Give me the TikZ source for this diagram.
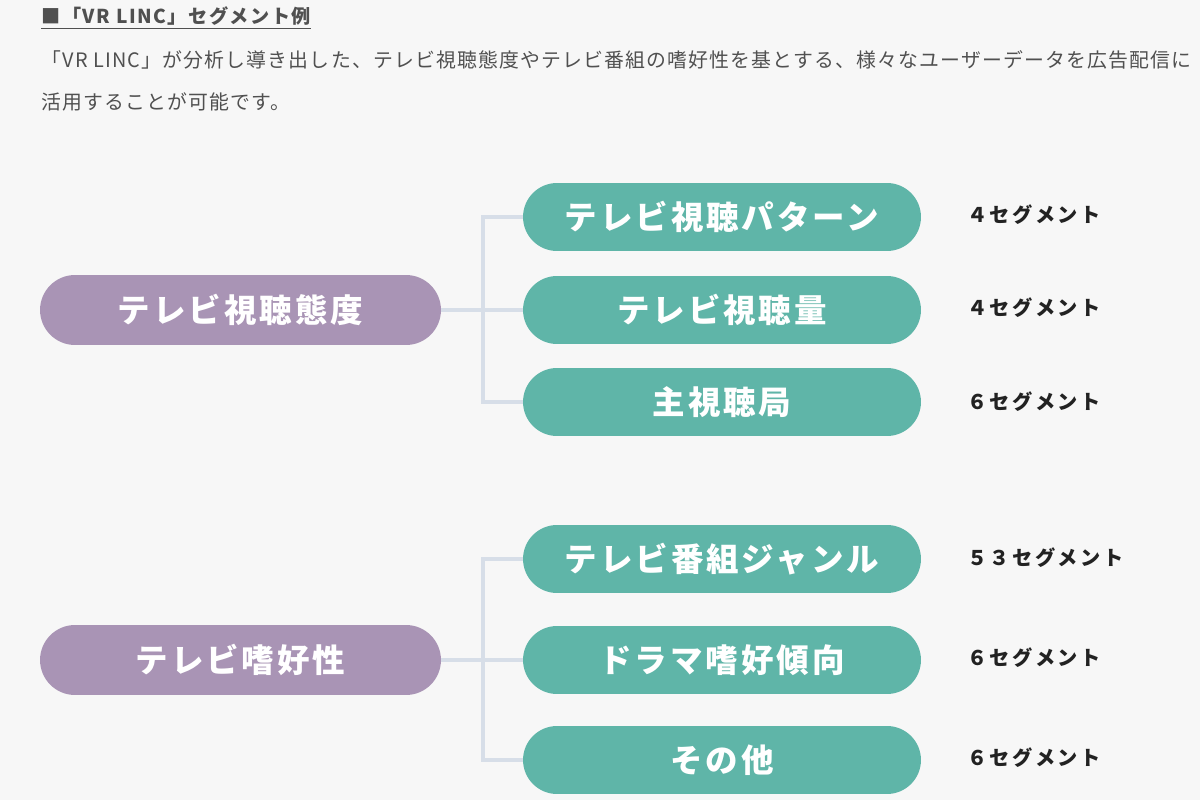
\documentclass[tikz,border=0pt]{standalone}
\usepackage{fontspec}
\setmainfont{Noto Sans CJK JP}
\newfontfamily\jpbody[LetterSpace=6]{Noto Sans CJK JP}
\newfontfamily\jptitle[LetterSpace=8]{Noto Sans CJK JP}
\newfontfamily\jpnode[LetterSpace=9]{Noto Sans CJK JP}
\newfontfamily\jpcount[LetterSpace=12]{Noto Sans CJK JP}
\definecolor{pagegray}{HTML}{F7F7F7}
\definecolor{topicpurple}{HTML}{A994B5}
\definecolor{itemgreen}{HTML}{5FB5A8}
\definecolor{linkgray}{HTML}{D7DEE8}
\definecolor{textgray}{HTML}{505050}
\definecolor{countblack}{HTML}{222222}

\begin{document}
\begin{tikzpicture} [x = 0.02cm, y = -0.02cm]
        %style
        \tikzset{topic/.style = {shape=rectangle, fill=topicpurple, rounded corners=0.7cm, minimum width=8.02cm, minimum height=1.4cm, text=white, font=\jpnode\bfseries\fontsize{18.5}{20}\selectfont}}
        \tikzset{item/.style = {shape=rectangle, fill=itemgreen, rounded corners=0.68cm, minimum width=7.96cm, minimum height=1.36cm, text=white, font=\jpnode\bfseries\fontsize{18.5}{20}\selectfont}}
        \tikzset{count/.style = {anchor=west, inner sep=0pt, text=countblack, font=\jpcount\bfseries\fontsize{11.5}{13}\selectfont}}
        \tikzset{body/.style = {anchor=west, inner sep=0pt, text=textgray, font=\jpbody\fontsize{11.3}{13}\selectfont}}
        \tikzset{link/.style = {draw=linkgray, line width=2.3pt}}
        \fill[pagegray] (0,0) rectangle (1200,800);
        \useasboundingbox (0,0) rectangle (1200,800);
        % heading and text
        \node[body, font=\jptitle\bfseries\fontsize{10.9}{12}\selectfont] (title) at (41,18) {\underline{■「VR LINC」セグメント例}};
        \node[body] (line1) at (41,60) {「VR LINC」が分析し導き出した、テレビ視聴態度やテレビ番組の嗜好性を基とする、様々なユーザーデータを広告配信に};
        \node[body] (line2) at (41,102) {活用することが可能です。};
        % viewing
        \node[topic] (view)  at (240.5,310) {テレビ視聴態度};
        \node[item]  (pat)   at (722,217)   {テレビ視聴パターン};
        \node[item]  (vol)   at (722,310)   {テレビ視聴量};
        \node[item]  (stat)  at (722,402)   {主視聴局};
        \coordinate  (vj)    at (483,310);
        \draw[link] (view) -- (vol);
        \draw[link] (pat.west) -| (vj) |- (stat.west);
        \node[count] (patn)  at (967,215) {４セグメント};
        \node[count] (voln)  at (967,308) {４セグメント};
        \node[count] (statn) at (967,402) {６セグメント};
        % preference
        \node[topic] (pref)  at (240.5,660) {テレビ嗜好性};
        \node[item]  (genre) at (722,559)   {テレビ番組ジャンル};
        \node[item]  (drama) at (722,660)   {ドラマ嗜好傾向};
        \node[item]  (other) at (722,760)   {その他};
        \coordinate  (pj)    at (483,660);
        \draw[link] (pref) -- (drama);
        \draw[link] (genre.west) -| (pj) |- (other.west);
        \node[count] (genren) at (967,558) {５３セグメント};
        \node[count] (draman) at (967,658) {６セグメント};
        \node[count] (othern) at (967,758) {６セグメント};
\end{tikzpicture}
\end{document}
